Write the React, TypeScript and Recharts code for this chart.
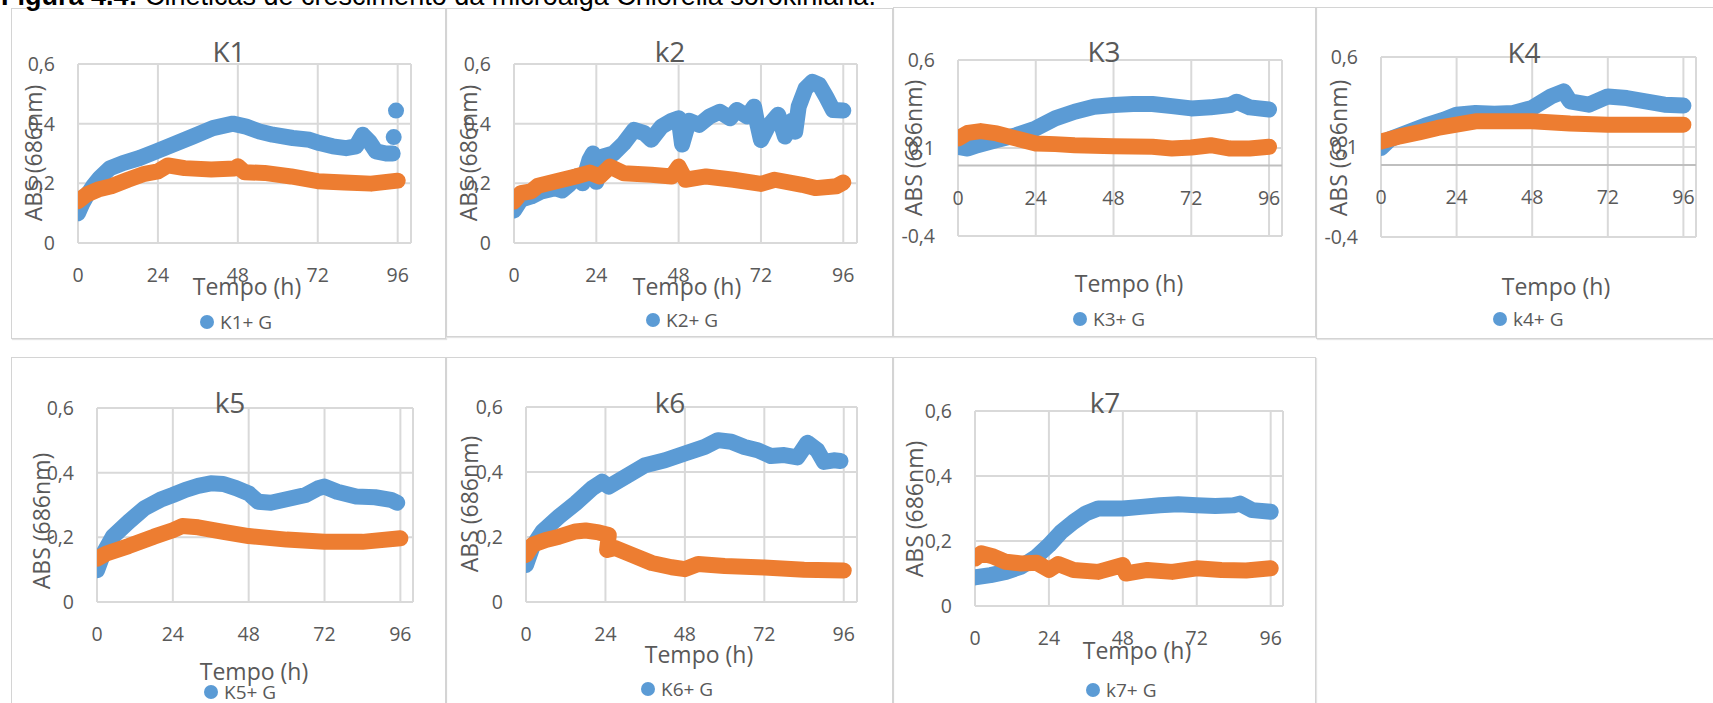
import React from 'react';
import { ComposedChart, Line, Scatter, XAxis, YAxis, CartesianGrid, ReferenceLine } from 'recharts';

const BLUE = '#5b9bd5';
const ORANGE = '#ed7d31';
const TEXT = '#595959';
const GRID = '#d9d9d9';
const FONT = '"Open Sans", sans-serif';

const X_TICKS = [0, 24, 48, 72, 96];
const Y_TICKS_A = [0, 0.2, 0.4, 0.6];
const Y_TICKS_B = [-0.4, 0.1, 0.6];
const TITLES = ['K1', 'k2', 'K3', 'K4', 'k5', 'k6', 'k7'];
const LEGEND_NAMES = ['K1+ G', 'K2+ G', 'K3+ G', 'k4+ G', 'K5+ G', 'K6+ G', 'k7+ G'];
const X_TITLE = 'Tempo (h)';
const Y_TITLE = 'ABS (686nm)';
const CAPTION_BOLD = 'Figura 4.4:';
const CAPTION_REST = ' Cinéticas de crescimento da microalga Chlorella sorokiniana.';

type P = [number, number];

const K1_BLUE: P[] = [[0,0.10],[1.2,0.13],[2.5,0.156],[4.5,0.19],[6.5,0.218],[9.5,0.25],[13.5,0.268],[18.5,0.285],[23.5,0.307],[28.5,0.33],[34.5,0.357],[40.5,0.385],[46.5,0.40],[50.5,0.39],[54.5,0.374],[58.5,0.363],[64.5,0.352],[69.5,0.346],[72.5,0.335],[76.5,0.324],[80.5,0.318],[83.5,0.324],[85.5,0.363],[87.5,0.34],[89.5,0.307],[92.5,0.30],[94.5,0.30]];
const K1_BLUE_EXTRA: P[] = [[94.8,0.355],[95.5,0.444]];
const K1_ORANGE: P[] = [[0,0.14],[2.5,0.162],[6,0.179],[10,0.19],[15,0.212],[20,0.232],[24,0.24],[27,0.26],[32,0.251],[40,0.246],[47,0.25],[48,0.257],[50,0.237],[56,0.235],[64,0.223],[72,0.207],[80,0.203],[88,0.199],[96,0.209]];

const K2_BLUE: P[] = [[0,0.109],[2,0.145],[5,0.156],[8,0.173],[12,0.184],[14,0.176],[16,0.195],[18,0.223],[20,0.20],[22,0.279],[23,0.30],[24,0.205],[26,0.29],[29,0.30],[32,0.334],[35,0.379],[38,0.368],[40,0.346],[43,0.39],[46,0.41],[48,0.418],[49,0.33],[51,0.41],[54,0.396],[57,0.424],[60,0.44],[63,0.418],[65,0.446],[68,0.424],[70,0.457],[71,0.396],[72,0.345],[74,0.39],[77,0.43],[79,0.357],[81,0.41],[82,0.373],[83,0.457],[85,0.518],[87,0.54],[89,0.53],[91,0.49],[93,0.446],[96,0.444]];
const K2_ORANGE: P[] = [[0,0.139],[2,0.167],[5,0.173],[7,0.192],[12,0.206],[18,0.223],[22,0.236],[25,0.223],[28,0.256],[32,0.234],[40,0.229],[46,0.223],[48,0.256],[50,0.212],[56,0.223],[64,0.212],[72,0.198],[76,0.212],[84,0.195],[88,0.184],[94,0.19],[96,0.203]];

const K3_BLUE: P[] = [[0,0.107],[3,0.097],[6,0.116],[12,0.145],[18,0.173],[24,0.211],[30,0.268],[36,0.306],[42,0.334],[48,0.344],[54,0.35],[60,0.35],[66,0.338],[72,0.325],[78,0.331],[84,0.344],[86,0.363],[90,0.331],[96,0.319]];
const K3_ORANGE: P[] = [[0,0.154],[3,0.186],[7,0.196],[12,0.183],[18,0.154],[24,0.126],[30,0.122],[36,0.116],[48,0.11],[60,0.107],[66,0.097],[72,0.103],[78,0.116],[84,0.097],[90,0.097],[96,0.107]];

const K4_BLUE: P[] = [[0,0.094],[3,0.144],[8,0.178],[14,0.219],[20,0.252],[24,0.28],[30,0.289],[36,0.285],[42,0.289],[48,0.317],[54,0.381],[58,0.409],[60,0.354],[66,0.335],[72,0.381],[78,0.372],[84,0.354],[90,0.335],[96,0.33]];
const K4_ORANGE: P[] = [[0,0.131],[6,0.159],[12,0.181],[18,0.206],[24,0.224],[30,0.243],[36,0.243],[48,0.243],[60,0.23],[72,0.224],[84,0.224],[96,0.224]];

const K5_BLUE: P[] = [[0,0.098],[2,0.15],[5,0.202],[10,0.248],[15,0.29],[20,0.316],[24,0.331],[28,0.347],[32,0.359],[36,0.367],[40,0.365],[44,0.352],[48,0.336],[51,0.31],[55,0.307],[60,0.318],[66,0.331],[70,0.352],[72,0.357],[76,0.341],[82,0.326],[88,0.324],[93,0.316],[95,0.307]];
const K5_ORANGE: P[] = [[0,0.134],[3,0.15],[10,0.173],[18,0.202],[24,0.222],[27,0.235],[32,0.231],[40,0.217],[48,0.204],[60,0.193],[72,0.186],[84,0.186],[96,0.197]];

const K6_BLUE: P[] = [[0,0.114],[2,0.171],[5,0.217],[10,0.263],[15,0.304],[20,0.35],[23,0.37],[25,0.355],[30,0.385],[36,0.421],[42,0.436],[48,0.457],[54,0.477],[58,0.498],[62,0.493],[66,0.477],[70,0.467],[74,0.449],[78,0.452],[82,0.445],[85,0.49],[88,0.467],[90,0.431],[93,0.436],[95,0.434]];
const K6_ORANGE: P[] = [[0,0.145],[2,0.176],[6,0.191],[10,0.201],[15,0.217],[18,0.22],[22,0.214],[25,0.206],[24.5,0.16],[27,0.166],[32,0.145],[38,0.12],[44,0.107],[48,0.101],[52,0.117],[60,0.111],[72,0.106],[84,0.099],[96,0.097]];

const K7_BLUE: P[] = [[0,0.088],[5,0.095],[10,0.105],[15,0.121],[20,0.152],[24,0.187],[28,0.228],[32,0.259],[36,0.285],[40,0.30],[44,0.30],[48,0.30],[54,0.305],[60,0.31],[66,0.313],[72,0.31],[78,0.308],[84,0.31],[86,0.315],[90,0.295],[96,0.29]];
const K7_ORANGE: P[] = [[0,0.146],[2,0.162],[6,0.152],[10,0.136],[15,0.131],[20,0.133],[24,0.111],[27,0.129],[32,0.111],[40,0.105],[48,0.126],[49,0.10],[56,0.111],[64,0.105],[72,0.116],[80,0.111],[88,0.109],[96,0.116]];

const BLUE_SERIES = [K1_BLUE, K2_BLUE, K3_BLUE, K4_BLUE, K5_BLUE, K6_BLUE, K7_BLUE];
const ORANGE_SERIES = [K1_ORANGE, K2_ORANGE, K3_ORANGE, K4_ORANGE, K5_ORANGE, K6_ORANGE, K7_ORANGE];
const EXTRA_SERIES: P[][] = [K1_BLUE_EXTRA, [], [], [], [], [], []];

const LAYOUT = [
  { box: { x: 11, y: 8, w: 435, h: 331 }, plot: { l: 78, r: 411, t: 64, b: 243 }, title: { x: 229, y: 62 }, xTitle: { x: 247, y: 295 }, yTitle: { x: 42, y: 153 }, legend: { x: 207, y: 322 }, neg: false },
  { box: { x: 446, y: 8, w: 447, h: 329 }, plot: { l: 514, r: 857, t: 64, b: 243 }, title: { x: 670, y: 62 }, xTitle: { x: 687, y: 295 }, yTitle: { x: 477, y: 153 }, legend: { x: 653, y: 320 }, neg: false },
  { box: { x: 893, y: 7, w: 423, h: 330 }, plot: { l: 958, r: 1282, t: 60, b: 236 }, title: { x: 1104, y: 62 }, xTitle: { x: 1129, y: 292 }, yTitle: { x: 922, y: 148 }, legend: { x: 1080, y: 319 }, neg: true },
  { box: { x: 1316, y: 7, w: 400, h: 332 }, plot: { l: 1381, r: 1696, t: 57, b: 237 }, title: { x: 1524, y: 63 }, xTitle: { x: 1556, y: 295 }, yTitle: { x: 1347, y: 148 }, legend: { x: 1500, y: 319 }, neg: true },
  { box: { x: 11, y: 357, w: 435, h: 360 }, plot: { l: 97, r: 413, t: 408, b: 602 }, title: { x: 230, y: 413 }, xTitle: { x: 254, y: 680 }, yTitle: { x: 50, y: 521 }, legend: { x: 211, y: 692 }, neg: false },
  { box: { x: 446, y: 357, w: 447, h: 360 }, plot: { l: 526, r: 857, t: 407, b: 602 }, title: { x: 670, y: 413 }, xTitle: { x: 699, y: 663 }, yTitle: { x: 478, y: 504 }, legend: { x: 648, y: 689 }, neg: false },
  { box: { x: 893, y: 357, w: 423, h: 360 }, plot: { l: 975, r: 1283, t: 411, b: 606 }, title: { x: 1105, y: 413 }, xTitle: { x: 1137, y: 659 }, yTitle: { x: 923, y: 509 }, legend: { x: 1093, y: 690 }, neg: false },
];

const toPts = (arr: P[]) => arr.map(([x, y]) => ({ x, y }));
const fmt = (v: number) => String(v).replace('.', ',');

const Y_AXIS_W = 30;
const X_AXIS_H = 30;

function Panel({ i }: { i: number }) {
  const L = LAYOUT[i];
  const yMin = L.neg ? -0.4 : 0;
  const yMax = 0.6;
  const yTicks = L.neg ? Y_TICKS_B : Y_TICKS_A;
  const plotH = L.plot.b - L.plot.t;
  const zeroShift = (plotH * (0 - yMin)) / (yMax - yMin);
  const margin = {
    top: L.plot.t - L.box.y,
    right: L.box.x + L.box.w - L.plot.r,
    bottom: L.box.y + L.box.h - L.plot.b - X_AXIS_H,
    left: L.plot.l - L.box.x - Y_AXIS_W,
  };
  const XTick = (props: any) => (
    <text x={props.x} y={props.y - zeroShift + 39} textAnchor="middle" fill={TEXT} fontSize={19.5} fontFamily={FONT}>
      {props.payload.value}
    </text>
  );
  const YTick = (props: any) => (
    <text x={props.x - 23} y={props.y + 7} textAnchor="end" fill={TEXT} fontSize={19.5} fontFamily={FONT}>
      {fmt(props.payload.value)}
    </text>
  );
  const extra = EXTRA_SERIES[i];
  return (
    <div style={{ position: 'absolute', left: L.box.x, top: L.box.y, width: L.box.w, height: L.box.h }}>
      <ComposedChart width={L.box.w} height={L.box.h} margin={margin}>
        <CartesianGrid stroke={GRID} strokeWidth={2} />
        <XAxis type="number" dataKey="x" domain={[0, 100]} ticks={X_TICKS} axisLine={false} tickLine={false} tickSize={0} tickMargin={0} height={X_AXIS_H} tick={XTick} allowDataOverflow />
        <YAxis type="number" dataKey="y" domain={[yMin, yMax]} ticks={yTicks} axisLine={false} tickLine={false} tickSize={0} tickMargin={0} width={Y_AXIS_W} tick={YTick} allowDataOverflow />
        {L.neg && <ReferenceLine y={0} stroke="#bfbfbf" strokeWidth={2} />}
        <Line data={toPts(BLUE_SERIES[i])} dataKey="y" type="linear" stroke={BLUE} strokeWidth={16} strokeLinecap="round" strokeLinejoin="round" dot={false} activeDot={false} isAnimationActive={false} name={LEGEND_NAMES[i]} />
        {extra.length > 0 && (
          <Scatter data={toPts(extra)} dataKey="y" fill={BLUE} isAnimationActive={false} shape={(p: any) => <circle cx={p.cx} cy={p.cy} r={8} fill={BLUE} />} />
        )}
        <Line data={toPts(ORANGE_SERIES[i])} dataKey="y" type="linear" stroke={ORANGE} strokeWidth={16} strokeLinecap="round" strokeLinejoin="round" dot={false} activeDot={false} isAnimationActive={false} legendType="none" />
      </ComposedChart>
    </div>
  );
}

function Labels() {
  return (
    <svg width={1713} height={703} style={{ position: 'absolute', left: 0, top: 0, pointerEvents: 'none' }}>
      <text x={1} y={5} fontFamily='"Liberation Sans", Arial, sans-serif' fontSize={27} fill="#000">
        <tspan fontWeight="bold">{CAPTION_BOLD}</tspan>
        <tspan>{CAPTION_REST}</tspan>
      </text>
      {LAYOUT.map((L, i) => (
        <g key={i} fontFamily={FONT} fill={TEXT}>
          <text x={L.title.x} y={L.title.y} textAnchor="middle" fontSize={28}>{TITLES[i]}</text>
          <text x={L.xTitle.x} y={L.xTitle.y} textAnchor="middle" fontSize={23}>{X_TITLE}</text>
          <text transform={`translate(${L.yTitle.x},${L.yTitle.y}) rotate(-90)`} textAnchor="middle" fontSize={23}>{Y_TITLE}</text>
          <circle cx={L.legend.x} cy={L.legend.y} r={7} fill={BLUE} />
          <text x={L.legend.x + 13} y={L.legend.y + 7} fontSize={19}>{LEGEND_NAMES[i]}</text>
        </g>
      ))}
    </svg>
  );
}

export default function App() {
  return (
    <div style={{ position: 'absolute', left: 0, top: 0, width: 1713, height: 703, overflow: 'hidden', background: '#fff' }}>
      {LAYOUT.map((L, i) => (
        <div key={'b' + i} style={{ position: 'absolute', left: L.box.x, top: L.box.y, width: L.box.w - 2, height: L.box.h - 2, border: '1px solid #d4d4d4', boxShadow: '1px 1px 1px #e4e4e4' }} />
      ))}
      {LAYOUT.map((L, i) => (
        <Panel key={i} i={i} />
      ))}
      <Labels />
    </div>
  );
}
